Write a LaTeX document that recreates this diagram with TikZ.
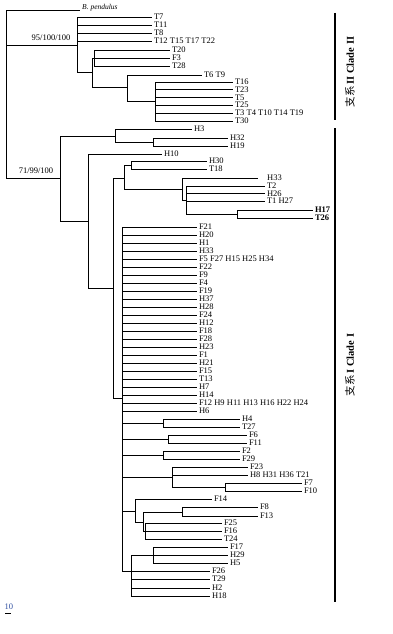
\documentclass[tikz,border=0pt]{standalone}
\usepackage{fontspec}
\setmainfont{Liberation Serif}
\newfontfamily\cjk{Noto Sans CJK SC}
\definecolor{scaleblue}{HTML}{2F4FA0}
\newcommand\tip[4]{\coordinate (#1) at (#2,#3);\node[lab] (#1l) at ([xshift=1.8pt]#1) {#4};}
\begin{document}
\begin{tikzpicture}[x=1pt,y=-1pt,
  br/.style={line width=0.75pt,black},
  lab/.style={anchor=west,inner sep=0pt,font=\fontsize{8.5}{9}\selectfont},
  supp/.style={inner sep=0pt,font=\fontsize{8.5}{9}\selectfont},
  bar/.style={line width=1.6pt,black},
  clade/.style={rotate=90,inner sep=0pt,font=\fontsize{10.5}{11}\selectfont}]
\useasboundingbox (0,0) rectangle (392,634);
% ---------- internal nodes ----------
\coordinate (root) at (6,94);
\coordinate (cII) at (77,45);
\coordinate (n92) at (92,72);
\coordinate (n94) at (94,58);
\coordinate (n127) at (127,87);
\coordinate (n155) at (155,101);
\coordinate (cI) at (60,178);
\coordinate (n115) at (115,136);
\coordinate (n153) at (153,142);
\coordinate (n88) at (88,221);
\coordinate (n113) at (113,288);
\coordinate (n124) at (124,178);
\coordinate (n131) at (131,165);
\coordinate (n182) at (182,189);
\coordinate (n186) at (186,200);
\coordinate (n237) at (237,214);
\coordinate (n122) at (122,398);
\coordinate (n163a) at (163,423);
\coordinate (n168) at (168,439);
\coordinate (n163b) at (163,455);
\coordinate (n172) at (172,477);
\coordinate (n225) at (225,487);
\coordinate (n135) at (135,511);
\coordinate (n143) at (143,522);
\coordinate (n182b) at (182,512);
\coordinate (n145) at (145,531);
\coordinate (n131b) at (131,571);
\coordinate (n153b) at (153,555);
% ---------- tips ----------
\coordinate (bp) at (80,10);
\node[lab,font=\fontsize{7.5}{8}\selectfont\itshape] (bpl) at (82,8) {B. pendulus};
\tip{T7}{152}{17}{T7}
\tip{T11}{152}{25}{T11}
\tip{T8}{152}{33}{T8}
\tip{T12}{152}{41}{T12 T15 T17 T22}
\tip{T20}{170}{50}{T20}
\tip{F3}{170}{58}{F3}
\tip{T28}{170}{66}{T28}
\tip{T6}{202}{75}{T6 T9}
\tip{T16}{233}{82}{T16}
\tip{T23}{233}{89.5}{T23}
\tip{T5}{233}{97.5}{T5}
\tip{T25}{233}{105}{T25}
\tip{T3}{233}{113}{T3 T4 T10 T14 T19}
\tip{T30}{233}{121}{T30}
\tip{H3}{192}{129}{H3}
\tip{H32}{228}{138}{H32}
\tip{H19}{228}{146}{H19}
\tip{H10}{162}{154}{H10}
\tip{H30}{207}{161}{H30}
\tip{T18}{207}{169}{T18}
\coordinate (H33) at (258,178);
\node[lab] (H33l) at (267,178) {H33};
\tip{T2}{265}{186}{T2}
\tip{H26}{265}{193.5}{H26}
\tip{T1}{265}{201}{T1 H27}
\tip{H17}{313}{210}{\textbf{H17}}
\tip{T26}{313}{218}{\textbf{T26}}
\tip{F21}{197}{227}{F21}
\tip{H20}{197}{235}{H20}
\tip{H1}{197}{243}{H1}
\tip{H33b}{197}{251}{H33}
\tip{F5}{197}{259}{F5 F27 H15 H25 H34}
\tip{F22}{197}{267}{F22}
\tip{F9}{197}{275}{F9}
\tip{F4}{197}{283}{F4}
\tip{F19}{197}{291}{F19}
\tip{H37}{197}{299}{H37}
\tip{H28}{197}{307}{H28}
\tip{F24}{197}{315}{F24}
\tip{H12}{197}{323}{H12}
\tip{F18}{197}{331}{F18}
\tip{F28}{197}{339}{F28}
\tip{H23}{197}{347}{H23}
\tip{F1}{197}{355}{F1}
\tip{H21}{197}{363}{H21}
\tip{F15}{197}{371}{F15}
\tip{T13}{197}{379}{T13}
\tip{H7}{197}{387}{H7}
\tip{H14}{197}{395}{H14}
\tip{F12}{197}{403}{F12 H9 H11 H13 H16 H22 H24}
\tip{H6}{197}{411}{H6}
\tip{H4}{240}{419}{H4}
\tip{T27}{240}{427}{T27}
\tip{F6}{247}{435}{F6}
\tip{F11}{247}{443}{F11}
\tip{F2}{240}{451}{F2}
\tip{F29}{240}{459}{F29}
\tip{F23}{248}{467}{F23}
\tip{H8}{248}{475}{H8 H31 H36 T21}
\tip{F7}{302}{483}{F7}
\tip{F10}{302}{491}{F10}
\tip{F14}{212}{499}{F14}
\tip{F8}{258}{507}{F8}
\tip{F13}{258}{516}{F13}
\tip{F25}{222}{523}{F25}
\tip{F16}{222}{531}{F16}
\tip{T24}{222}{539}{T24}
\tip{F17}{228}{547}{F17}
\tip{H29}{228}{555}{H29}
\tip{H5}{228}{563}{H5}
\tip{F26}{210}{571}{F26}
\tip{T29}{210}{579}{T29}
\tip{H2}{210}{588}{H2}
\tip{H18}{210}{596}{H18}
% ---------- branches ----------
\draw[br] (root) |- (bp);
\draw[br] (root) |- (cII);
\draw[br] (root) |- (cI);
\foreach \c in {T7,T11,T8,T12,n92} \draw[br] (cII) |- (\c);
\foreach \c in {n94,n127} \draw[br] (n92) |- (\c);
\foreach \c in {T20,F3,T28} \draw[br] (n94) |- (\c);
\foreach \c in {T6,n155} \draw[br] (n127) |- (\c);
\foreach \c in {T16,T23,T5,T25,T3,T30} \draw[br] (n155) |- (\c);
\foreach \c in {n115,n88} \draw[br] (cI) |- (\c);
\foreach \c in {H3,n153} \draw[br] (n115) |- (\c);
\foreach \c in {H32,H19} \draw[br] (n153) |- (\c);
\foreach \c in {H10,n113} \draw[br] (n88) |- (\c);
\foreach \c in {n124,n122} \draw[br] (n113) |- (\c);
\foreach \c in {n131,n182} \draw[br] (n124) |- (\c);
\foreach \c in {H30,T18} \draw[br] (n131) |- (\c);
\foreach \c in {H33,n186} \draw[br] (n182) |- (\c);
\foreach \c in {T2,H26,T1,n237} \draw[br] (n186) |- (\c);
\foreach \c in {H17,T26} \draw[br] (n237) |- (\c);
\foreach \c in {F21,H20,H1,H33b,F5,F22,F9,F4,F19,H37,H28,F24,H12,F18,F28,H23,F1,H21,F15,T13,H7,H14,F12,H6,n163a,n168,n163b,n172,n135,n131b}
  \draw[br] (n122) |- (\c);
\foreach \c in {H4,T27} \draw[br] (n163a) |- (\c);
\foreach \c in {F6,F11} \draw[br] (n168) |- (\c);
\foreach \c in {F2,F29} \draw[br] (n163b) |- (\c);
\foreach \c in {F23,H8,n225} \draw[br] (n172) |- (\c);
\foreach \c in {F7,F10} \draw[br] (n225) |- (\c);
\foreach \c in {F14,n143} \draw[br] (n135) |- (\c);
\foreach \c in {n182b,n145} \draw[br] (n143) |- (\c);
\foreach \c in {F8,F13} \draw[br] (n182b) |- (\c);
\foreach \c in {F25,F16,T24} \draw[br] (n145) |- (\c);
\foreach \c in {n153b,F26,T29,H2,H18} \draw[br] (n131b) |- (\c);
\foreach \c in {F17,H29,H5} \draw[br] (n153b) |- (\c);
% ---------- support values ----------
\node[supp] (s2) at (51,38) {95/100/100};
\node[supp] (s1) at (36,171) {71/99/100};
% ---------- clade bars ----------
\coordinate (b2a) at (335,13);
\coordinate (b2b) at (335,120);
\coordinate (b1a) at (335,128);
\coordinate (b1b) at (335,602);
\draw[bar] (b2a) -- (b2b);
\draw[bar] (b1a) -- (b1b);
\node[clade] (c2t) at (350,72) {{\cjk 支系}\,\textbf{II Clade II}};
\node[clade] (c1t) at (350,365) {{\cjk 支系}\,\textbf{I Clade I}};
% ---------- scale ----------
\node[supp,text=scaleblue] (sc) at (9,607) {10};
\coordinate (sca) at (5,613);
\coordinate (scb) at (11,613);
\draw[line width=0.8pt] (sca) -- (scb);
\end{tikzpicture}
\end{document}
